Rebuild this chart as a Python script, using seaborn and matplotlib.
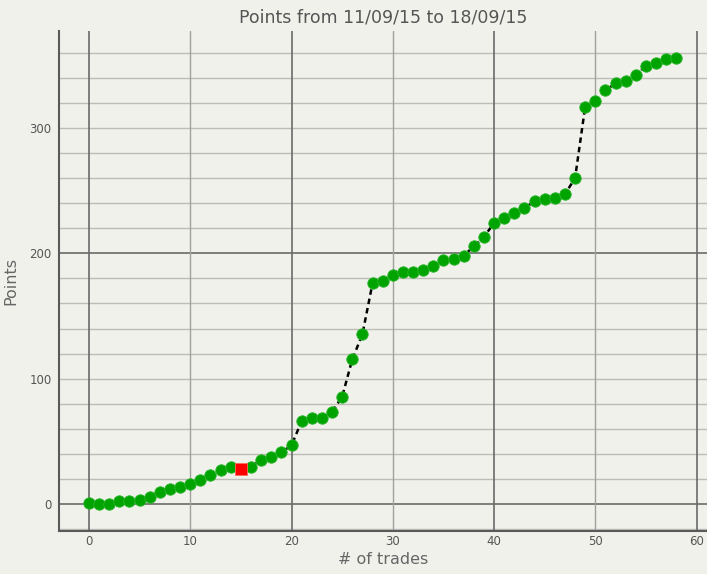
import numpy as np
import pandas as pd
import seaborn as sns
import matplotlib.pyplot as plt

# cumulative points per trade
trades = list(range(59))
points = [0.6, 0.3, 0.3, 2.4, 2.4, 3.2, 5.3, 9.6, 11.7, 13.3,
          15.7, 18.9, 23.1, 26.9, 29.8, 27.7, 29.8, 35.1, 37.2, 41.2,
          46.8, 66.2, 68.4, 68.4, 73.4, 85.6, 115.4, 135.4, 176.1, 177.7,
          182.5, 184.9, 184.9, 186.7, 189.6, 194.4, 195.2, 198.1, 205.6, 213.3,
          224.0, 228.0, 232.1, 236.0, 241.5, 243.1, 244.0, 247.3, 259.9, 317.0,
          321.5, 330.0, 335.6, 337.8, 342.3, 349.5, 351.6, 354.8, 355.6]
losing_trades = [15]

title = "Points from 11/09/15 to 18/09/15"
xlabel = "# of trades"
ylabel = "Points"

df = pd.DataFrame({"trade": trades, "points": points})
df["loss"] = df["trade"].isin(losing_trades)

bg = "#f1f1ec"
sns.set_theme(style="white")
plt.rcParams["font.family"] = ["DejaVu Sans"]

fig = plt.figure(figsize=(7.07, 5.74), dpi=100, facecolor=bg)
ax = fig.add_axes([58.6 / 707, 1 - 531 / 574, (707 - 58.6) / 707, 500 / 574])
ax.set_facecolor(bg)

# grid: light every 20 in y, darker at 0/200; x mid-grey every 10, darker every 20
for y in range(-20, 380, 20):
    col = "#6a6a6a" if y % 200 == 0 else "#bdbdb8"
    ax.axhline(y, color=col, lw=1.2 if y % 200 == 0 else 1.0, zorder=0)
for x in range(0, 61, 10):
    col = "#6a6a6a" if x % 20 == 0 else "#a0a09e"
    ax.axvline(x, color=col, lw=1.2 if x % 20 == 0 else 1.0, zorder=0)

sns.lineplot(data=df, x="trade", y="points", ax=ax, color="black",
             lw=1.8, linestyle=(0, (2.2, 1.6)), zorder=2)
sns.scatterplot(data=df[~df["loss"]], x="trade", y="points", ax=ax,
                color="#00a400", edgecolor="#2fb52f", linewidth=0.6,
                s=68, marker="o", zorder=3)
sns.scatterplot(data=df[df["loss"]], x="trade", y="points", ax=ax,
                color="#ff0000", edgecolor="#ff6a5a", linewidth=0.6,
                s=68, marker="s", zorder=4)

ax.set_xlim(-3, 61.03)
ax.set_ylim(-21.5, 377.4)
ax.set_xticks(range(0, 61, 10))
ax.set_yticks([0, 100, 200, 300])
ax.tick_params(axis="x", length=0, labelsize=8.5, labelcolor="#555555", pad=3)
ax.tick_params(axis="y", length=0, labelsize=8.5, labelcolor="#555555", pad=5)

for side in ["top", "right"]:
    ax.spines[side].set_visible(False)
for side in ["left", "bottom"]:
    ax.spines[side].set_color("#5a5a5a")
    ax.spines[side].set_linewidth(1.5)

ax.set_title(title, fontsize=12.5, color="#555555", pad=6)
ax.set_xlabel(xlabel, fontsize=11.5, color="#666666", labelpad=3)
ax.set_ylabel(ylabel, fontsize=11.5, color="#666666")
ax.yaxis.set_label_coords(-0.062, 0.5)

fig.savefig("out.png", dpi=100, facecolor=bg)
